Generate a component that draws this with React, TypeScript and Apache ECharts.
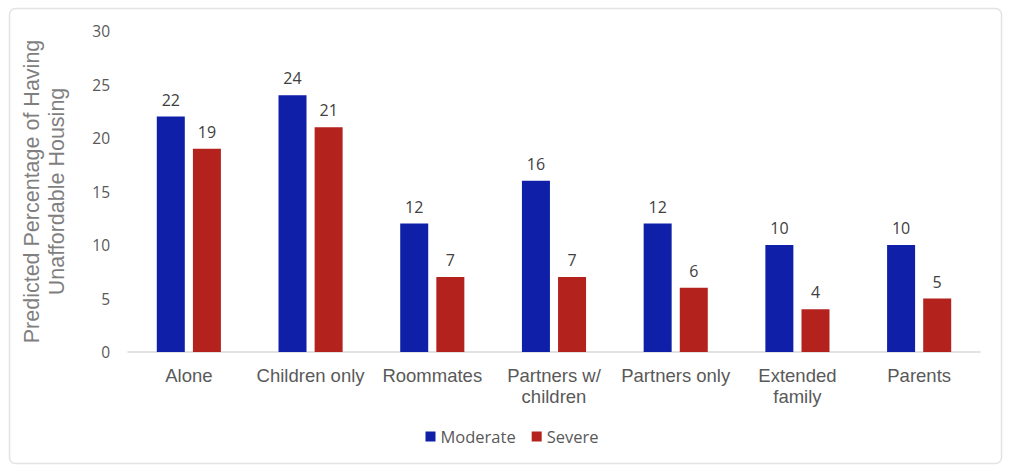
import React, { useEffect, useRef } from "react";
import * as echarts from "echarts";

const categories = ["Alone", "Children only", "Roommates", "Partners w/\nchildren", "Partners only", "Extended\nfamily", "Parents"];
const moderate = [22, 24, 12, 16, 12, 10, 10];
const severe = [19, 21, 7, 7, 6, 4, 5];
const yTicks = { min: 0, max: 30, interval: 5 };

export default function App() {
  const ref = useRef<HTMLDivElement>(null);
  useEffect(() => {
    const chart = echarts.init(ref.current!, null, { renderer: "svg" });
    const font = "'Open Sans', Lato, Arial, sans-serif";
    const sans = "'Liberation Sans', Arial, sans-serif";
    chart.setOption({
      animation: false,
      backgroundColor: "#ffffff",
      textStyle: { fontFamily: font },
      graphic: [
        {
          type: "rect",
          shape: { x: 9.5, y: 8.5, width: 992, height: 455, r: 6 },
          style: { fill: "none", stroke: "#e3e3e3", lineWidth: 1.5 },
          silent: true,
        },
      ],
      grid: { left: 128, right: 44, top: 31, bottom: 119, containLabel: false },
      legend: {
        data: ["Moderate", "Severe"],
        bottom: 21,
        left: "center",
        itemWidth: 10,
        itemHeight: 10,
        itemGap: 16,
        icon: "rect",
        textStyle: { fontSize: 16.5, color: "#595959", fontFamily: font },
      },
      xAxis: {
        type: "category",
        data: categories,
        axisLine: { lineStyle: { color: "#d9d9d9", width: 1.5 } },
        axisTick: { show: false },
        axisLabel: { interval: 0, fontSize: 18.5, color: "#595959", margin: 13, lineHeight: 21, fontFamily: sans },
      },
      yAxis: {
        type: "value",
        min: yTicks.min,
        max: yTicks.max,
        interval: yTicks.interval,
        name: "Predicted Percentage of Having\nUnaffordable Housing",
        nameLocation: "middle",
        nameGap: 59,
        nameRotate: 90,
        nameTextStyle: { fontSize: 21.5, color: "#7f7f7f", lineHeight: 25, fontFamily: sans },
        axisLine: { show: false },
        axisTick: { show: false },
        splitLine: { show: false },
        axisLabel: { fontSize: 15.5, color: "#595959", margin: 18 },
      },
      series: [
        {
          name: "Moderate",
          type: "bar",
          data: moderate,
          barWidth: 28,
          barGap: "29%",
          itemStyle: { color: "#0f1fa8" },
          label: { show: true, position: "top", distance: 9, fontSize: 16, color: "#404040" },
        },
        {
          name: "Severe",
          type: "bar",
          data: severe,
          barWidth: 28,
          barGap: "29%",
          itemStyle: { color: "#b3221d" },
          label: { show: true, position: "top", distance: 9, fontSize: 16, color: "#404040" },
        },
      ],
    });
    return () => chart.dispose();
  }, []);
  return (
    <div
      ref={ref}
      style={{ position: "fixed", left: 0, top: 0, width: 1024, height: 471 }}
    />
  );
}
